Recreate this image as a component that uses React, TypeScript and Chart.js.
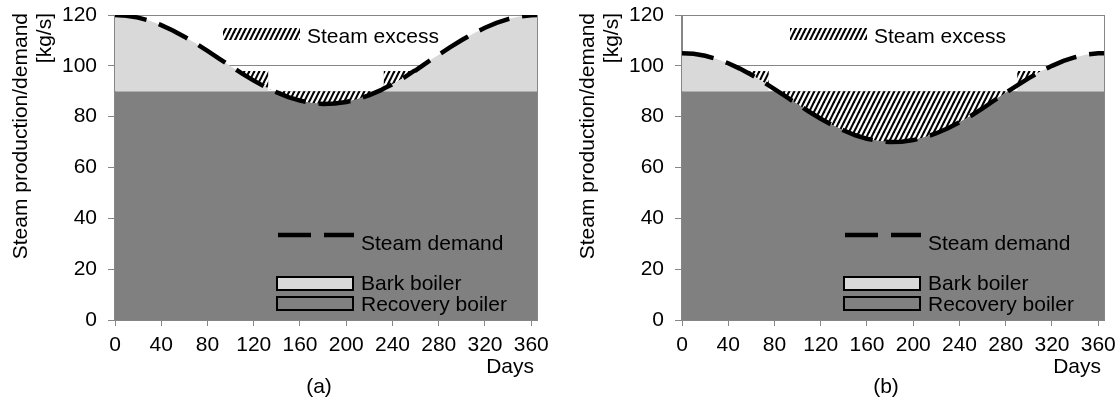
import React, { useEffect, useRef } from "react";
import { Chart, registerables } from "chart.js";
Chart.register(...registerables);

// ---------- data ----------
// Panel (a)
const DAYS_A = [0, 10, 20, 30, 40, 50, 60, 70, 80, 90, 100, 106.4, 110, 120, 130, 132.5, 132.5, 140, 150, 160, 170, 180, 190, 200, 210, 220, 230, 232.5, 232.5, 240, 250, 258.6, 260, 270, 280, 290, 300, 310, 320, 330, 340, 350, 360, 365];
const DEMAND_A = [120, 119.74, 118.97, 117.72, 116.01, 113.91, 111.47, 108.76, 105.87, 102.88, 99.88, 98, 96.94, 94.19, 91.68, 91.08, 91.08, 89.55, 87.68, 86.29, 85.41, 85.02, 85.15, 85.78, 86.91, 88.48, 90.45, 91.08, 91.08, 92.77, 95.38, 98, 98.22, 101.37, 104.38, 107.33, 110.15, 112.73, 115.01, 116.92, 118.4, 119.42, 119.94, 120];
const BARK_A = [30, 29.74, 28.97, 27.72, 26.01, 23.91, 21.47, 18.76, 15.87, 12.88, 9.88, 8, 8, 8, 8, 8, 0, 0, 0, 0, 0, 0, 0, 0, 0, 0, 0, 0, 8, 8, 8, 8, 8.22, 11.37, 14.38, 17.33, 20.15, 22.73, 25.01, 26.92, 28.4, 29.42, 29.94, 30];

// Panel (b)
const DAYS_B = [0, 10, 20, 30, 40, 50, 53.9, 60, 70, 75, 75, 80, 90, 100, 110, 120, 130, 140, 150, 160, 170, 180, 190, 200, 210, 220, 230, 240, 250, 260, 270, 280, 290, 290, 300, 310, 311.1, 320, 330, 340, 350, 360, 365];
const DEMAND_B = [105, 104.74, 103.97, 102.72, 101.01, 98.91, 98, 96.47, 93.76, 92.33, 92.33, 90.87, 87.88, 84.88, 81.94, 79.19, 76.68, 74.55, 72.68, 71.29, 70.41, 70.02, 70.15, 70.78, 71.91, 73.48, 75.45, 77.77, 80.38, 83.22, 86.37, 89.38, 92.33, 92.33, 95.15, 97.73, 98, 100.01, 101.92, 103.4, 104.42, 104.94, 105];
const BARK_B = [15, 14.74, 13.97, 12.72, 11.01, 8.91, 8, 8, 8, 8, 0, 0, 0, 0, 0, 0, 0, 0, 0, 0, 0, 0, 0, 0, 0, 0, 0, 0, 0, 0, 0, 0, 0, 8, 8, 8, 8, 10.01, 11.92, 13.4, 14.42, 14.94, 15];

// Recovery boiler (constant over the year)
const RECOVERY_DAYS = [0, 365];
const RECOVERY = [90, 90];

// Axis / text
const X_MIN = 0;
const X_MAX = 365;
const X_STEP = 40;
const Y_MIN = 0;
const Y_MAX = 120;
const Y_STEP = 20;
const Y_TITLE = ["Steam production/demand", "[kg/s]"];
const X_TITLE = "Days";
const LEGEND_LABELS = ["Steam excess", "Steam demand", "Bark boiler", "Recovery boiler"];

const FONT = '"Liberation Sans", Arial, sans-serif';
const FS = 21;
const DARK = "#808080";
const LIGHT = "#d9d9d9";
const AXIS = "#868686";

function makeHatch(): CanvasPattern {
  const w = 5;
  const h = 10;
  const c = document.createElement("canvas");
  c.width = w;
  c.height = h;
  const g = c.getContext("2d")!;
  g.fillStyle = "#ffffff";
  g.fillRect(0, 0, w, h);
  g.strokeStyle = "#000000";
  g.lineWidth = 2.1;
  for (const o of [-w, 0, w]) {
    g.beginPath();
    g.moveTo(o - 1, h + 2);
    g.lineTo(o + w + 1, -2);
    g.stroke();
  }
  return g.createPattern(c, "repeat")!;
}

type PanelProps = {
  days: number[];
  demand: number[];
  bark: number[];
  tag: string;
  dx: number;
  left: number;
};

function Panel(props: PanelProps) {
  const ref = useRef<HTMLCanvasElement>(null);
  useEffect(() => {
    const canvas = ref.current!;
    const hatch = makeHatch();
    const { days, demand, bark, tag, dx } = props;
    const supply = bark.map((b) => Math.round((RECOVERY[0] + b) * 100) / 100);
    const pts = (ys: number[]) => days.map((d, i) => ({ x: d, y: ys[i] }));
    const tickFont = { size: FS, family: FONT };

    const overlay = {
      id: "overlay",
      beforeDatasetsDraw(chart: any) {
        const { ctx, chartArea: a } = chart;
        ctx.save();
        ctx.strokeStyle = AXIS;
        ctx.lineWidth = 1;
        const xr = Math.round(a.right) + 0.5;
        ctx.beginPath();
        ctx.moveTo(xr, a.top);
        ctx.lineTo(xr, a.bottom);
        ctx.stroke();
        ctx.restore();
      },
      afterDatasetsDraw(chart: any) {
        const { ctx, chartArea: a } = chart;
        ctx.save();
        ctx.strokeStyle = AXIS;
        ctx.lineWidth = 1;
        const xl = Math.round(a.left) - 0.5;
        const yb = Math.round(a.bottom) + 0.5;
        ctx.beginPath();
        ctx.moveTo(xl, a.top);
        ctx.lineTo(xl, yb);
        ctx.lineTo(a.right, yb);
        ctx.stroke();
        ctx.restore();
      },
      afterDraw(chart: any) {
        const { ctx } = chart;
        ctx.save();
        ctx.font = `${FS}px ${FONT}`;
        ctx.fillStyle = "#000";
        ctx.textBaseline = "alphabetic";
        ctx.textAlign = "left";

        // Steam excess legend
        ctx.fillStyle = hatch;
        ctx.fillRect(223 + dx, 28, 77, 12);
        ctx.fillStyle = "#000";
        ctx.fillText(LEGEND_LABELS[0], 307 + dx, 42.5);

        // Steam demand legend
        ctx.save();
        ctx.strokeStyle = "#000";
        ctx.lineWidth = 4.5;
        ctx.setLineDash([33, 13]);
        ctx.beginPath();
        ctx.moveTo(278 + dx, 235);
        ctx.lineTo(354 + dx, 235);
        ctx.stroke();
        ctx.restore();
        ctx.fillText(LEGEND_LABELS[1], 361 + dx, 250);

        // Bark boiler
        ctx.lineWidth = 2;
        ctx.strokeStyle = "#000";
        ctx.fillStyle = LIGHT;
        ctx.fillRect(277 + dx, 277, 76, 13);
        ctx.strokeRect(277 + dx, 277, 76, 13);
        ctx.fillStyle = "#000";
        ctx.fillText(LEGEND_LABELS[2], 361 + dx, 289.5);

        // Recovery boiler
        ctx.fillStyle = DARK;
        ctx.fillRect(277 + dx, 297, 76, 13);
        ctx.strokeRect(277 + dx, 297, 76, 13);
        ctx.fillStyle = "#000";
        ctx.fillText(LEGEND_LABELS[3], 361 + dx, 311);

        // x title
        ctx.textAlign = "right";
        ctx.fillText(X_TITLE, 534 + dx, 373);

        // panel tag
        ctx.textAlign = "center";
        ctx.textBaseline = "middle";
        ctx.fillText(tag, 319 + dx, 387);

        // y title (rotated)
        const cols = [21, 45];
        Y_TITLE.forEach((t, i) => {
          ctx.save();
          ctx.translate(cols[i] + dx, 13);
          ctx.rotate(-Math.PI / 2);
          ctx.textAlign = "right";
          ctx.textBaseline = "middle";
          ctx.fillText(t, 0, 0);
          ctx.restore();
        });
        ctx.restore();
      },
    };

    const chart = new Chart(canvas, {
      type: "line",
      data: {
        datasets: [
          {
            label: LEGEND_LABELS[1],
            data: pts(demand),
            borderColor: "#000",
            borderWidth: 4.5,
            borderDash: [32, 13],
            pointRadius: 0,
            fill: false,
            tension: 0,
          },
          {
            label: LEGEND_LABELS[0],
            data: pts(supply),
            borderColor: "rgba(0,0,0,0)",
            borderWidth: 0,
            pointRadius: 0,
            backgroundColor: hatch,
            fill: { target: 0, above: hatch, below: "rgba(0,0,0,0)" },
            tension: 0,
          },
          {
            label: LEGEND_LABELS[2],
            data: pts(supply),
            borderColor: "rgba(0,0,0,0)",
            borderWidth: 0,
            pointRadius: 0,
            backgroundColor: LIGHT,
            fill: 3,
            tension: 0,
          },
          {
            label: LEGEND_LABELS[3],
            data: RECOVERY_DAYS.map((d, i) => ({ x: d, y: RECOVERY[i] })),
            borderColor: "rgba(0,0,0,0)",
            borderWidth: 0,
            pointRadius: 0,
            backgroundColor: DARK,
            fill: "origin",
            tension: 0,
          },
        ],
      } as any,
      options: {
        responsive: false,
        animation: false,
        events: [],
        layout: { padding: { left: 0, right: 23 - dx, top: 15, bottom: 0 } },
        plugins: { legend: { display: false }, tooltip: { enabled: false }, title: { display: false } },
        scales: {
          x: {
            type: "linear",
            min: X_MIN,
            max: X_MAX,
            ticks: {
              stepSize: X_STEP,
              includeBounds: false,
              autoSkip: false,
              maxRotation: 0,
              padding: 7,
              color: "#000",
              font: tickFont,
            },
            grid: { drawOnChartArea: false, tickLength: 6, color: AXIS },
            border: { color: AXIS },
            afterFit: (s: any) => {
              s.height = 78;
              s.paddingLeft = 0;
              s.paddingRight = 0;
            },
          },
          y: {
            type: "linear",
            min: Y_MIN,
            max: Y_MAX,
            ticks: { stepSize: Y_STEP, padding: 11, color: "#000", font: tickFont },
            grid: { color: AXIS, tickLength: 7 },
            border: { color: AXIS },
            afterFit: (s: any) => {
              s.width = 115 + dx;
              s.paddingTop = 0;
              s.paddingBottom = 0;
            },
          },
        },
      } as any,
      plugins: [overlay],
    });
    return () => chart.destroy();
  }, []);
  return (
    <canvas
      ref={ref}
      width={560}
      height={398}
      style={{ position: "absolute", left: props.left, top: 0, width: 560, height: 398 }}
    />
  );
}

export default function App() {
  return (
    <div style={{ position: "absolute", left: 0, top: 0, width: 1120, height: 398, background: "#fff" }}>
      <Panel days={DAYS_A} demand={DEMAND_A} bark={BARK_A} tag="(a)" dx={0} left={0} />
      <Panel days={DAYS_B} demand={DEMAND_B} bark={BARK_B} tag="(b)" dx={7} left={560} />
    </div>
  );
}
